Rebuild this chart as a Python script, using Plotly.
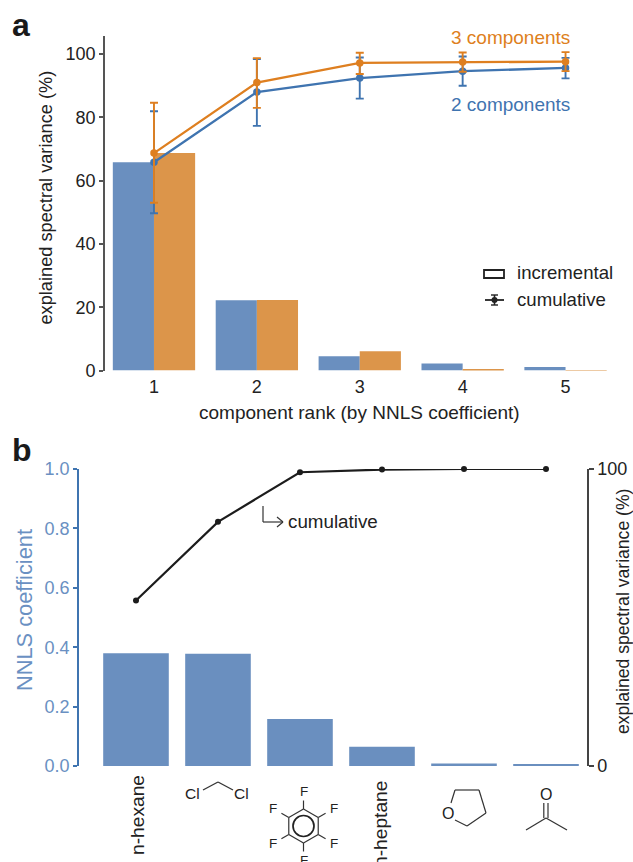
import math
import plotly.graph_objects as go

W, H = 633, 862
# ---- data ----
ranks = [1, 2, 3, 4, 5]
inc_2 = [65.8, 22.2, 4.5, 2.2, 1.1]
inc_3 = [68.7, 22.3, 6.1, 0.45, 0.12]
cum_2 = [65.8, 88.0, 92.4, 94.6, 95.6]
cum_3 = [68.7, 91.0, 97.2, 97.5, 97.6]
err_2_hi = [81.9, 98.4, 98.9, 99.2, 98.8]
err_2_lo = [49.7, 77.3, 85.9, 90.0, 92.3]
err_3_hi = [84.6, 98.7, 100.4, 100.5, 100.6]
err_3_lo = [53.0, 83.0, 93.7, 94.4, 94.6]
solvents = ["n-hexane", "dichloromethane", "hexafluorobenzene", "n-heptane", "tetrahydrofuran", "acetone"]
positions = [0, 1, 2, 3, 4, 5]
nnls = [0.38, 0.378, 0.158, 0.065, 0.008, 0.004]
cum_b = [55.7, 82.2, 98.9, 99.8, 100, 100]

BLUE_BAR, ORG_BAR = "#6A8FBF", "#DC954A"
BLUE, ORG = "#3F74B0", "#DE7F20"
LBLUE = "#6A90C2"
TXT = "#222222"
FONT = "Liberation Sans"

def px(x): return x / W
def py(y): return 1 - y / H

fig = go.Figure()
off = 0.2
fig.add_bar(x=[r - off for r in ranks], y=inc_2, width=0.4, marker=dict(color=BLUE_BAR, line_width=0), xaxis="x", yaxis="y")
fig.add_bar(x=[r + off for r in ranks], y=inc_3, width=0.4, marker=dict(color=ORG_BAR, line_width=0), xaxis="x", yaxis="y")
for c, h, l, col in [(cum_2, err_2_hi, err_2_lo, BLUE), (cum_3, err_3_hi, err_3_lo, ORG)]:
    fig.add_scatter(x=ranks, y=c, mode="lines+markers", line=dict(color=col, width=2.3), marker=dict(color=col, size=7.5),
                    error_y=dict(type="data", symmetric=False, array=[a - b for a, b in zip(h, c)],
                                 arrayminus=[b - a for a, b in zip(l, c)], color=col, thickness=1.9, width=4),
                    cliponaxis=False, xaxis="x", yaxis="y")
fig.add_bar(x=positions, y=nnls, width=0.8, marker=dict(color=BLUE_BAR, line_width=0), xaxis="x2", yaxis="y2")
fig.add_scatter(x=positions, y=cum_b, mode="lines+markers", line=dict(color="#1c1c1c", width=2.2),
                marker=dict(color="#1c1c1c", size=6), cliponaxis=False, xaxis="x2", yaxis="y3")

ann = []
def text(x, y, s, size=16.5, color=TXT, angle=0, anchor="center", bold=False):
    ann.append(dict(x=px(x), y=py(y), xref="paper", yref="paper", text=f"<b>{s}</b>" if bold else s, showarrow=False,
                    textangle=angle, xanchor=anchor, yanchor="middle", font=dict(family=FONT, size=size, color=color)))

text(10, 25, "a", 32, "#1a1a1a", anchor="left", bold=True)
text(10, 450, "b", 32, "#1a1a1a", anchor="left", bold=True)
text(572, 37, "3 components", 19, ORG, anchor="right")
text(572, 104, "2 components", 19, BLUE, anchor="right")
text(515, 272, "incremental", 18.6, anchor="left")
text(515, 299, "cumulative", 18.6, anchor="left")
text(359.5, 413, "component rank (by NNLS coefficient)", 19)
text(46, 197.5, "explained spectral variance (%)", 18.2, angle=-90)
text(24, 610, "NNLS coefficient", 21.8, LBLUE, angle=-90)
text(623, 612, "explained spectral variance (%)", 17.6, angle=-90)
text(286, 521, "cumulative", 18.8, anchor="left")
text(137, 815, solvents[0], 19.2, angle=-90)
text(380, 824, solvents[3], 19.2, angle=-90)

shapes = []
def seg(x0, y0, x1, y1, w=1.2, color="#333333"):
    shapes.append(dict(type="line", xref="paper", yref="paper", x0=px(x0), y0=py(y0), x1=px(x1), y1=py(y1),
                       line=dict(color=color, width=w)))

# legend glyphs
shapes.append(dict(type="rect", xref="paper", yref="paper", x0=px(484), x1=px(504), y0=py(278), y1=py(270),
                   line=dict(color="#222222", width=1.8)))
seg(485, 300, 504, 300, 1.8, "#222222")
seg(494.5, 295, 494.5, 305, 1.6, "#222222")
seg(491, 295, 498, 295, 1.4, "#222222")
seg(491, 305, 498, 305, 1.4, "#222222")
shapes.append(dict(type="circle", xref="paper", yref="paper", x0=px(491.5), x1=px(497.5), y0=py(303), y1=py(297),
                   fillcolor="#222222", line_width=0))
# elbow arrow
seg(263, 506, 263, 522)
seg(263, 522, 283, 522)
seg(277, 517, 283, 522)
seg(277, 527, 283, 522)
# dichloromethane
text(192.7, 793, "Cl", 15.5)
text(241, 793, "Cl", 15.5)
seg(203, 790, 218, 782)
seg(218, 782, 233, 790)
# C6F6
cx, cy, r = 303.5, 826, 17
pts = [(cx + r * math.cos(math.radians(a)), cy + r * math.sin(math.radians(a))) for a in range(30, 390, 60)]
for i in range(6):
    seg(*pts[i], *pts[(i + 1) % 6])
    ox, oy = pts[i]
    dx, dy = ox - cx, oy - cy
    seg(ox, oy, ox + dx * 0.5, oy + dy * 0.5)
    text(cx + dx * 2.05, cy + dy * 2.05, "F", 13.5)
shapes.append(dict(type="circle", xref="paper", yref="paper", x0=px(cx - 10.5), x1=px(cx + 10.5),
                   y0=py(cy + 10.5), y1=py(cy - 10.5), line=dict(color="#222222", width=1.7)))
# THF
thf = [(455, 790), (479, 790), (486, 813), (467, 826), (455, 820)]
seg(*thf[0], *thf[1]); seg(*thf[1], *thf[2]); seg(*thf[2], *thf[3]); seg(*thf[3], *thf[4])
seg(*thf[0], 451, 803)
text(448, 813, "O", 16)
# acetone
seg(526, 830, 546, 818); seg(546, 818, 567, 830)
seg(543.8, 818, 543.8, 803); seg(548, 818, 548, 803)
text(546, 794, "O", 16)

AX = "#555555"
tickfont = dict(family=FONT, size=18, color=TXT)
fig.update_layout(
    width=W, height=H, autosize=False, margin=dict(l=0, r=0, t=0, b=0, autoexpand=False), showlegend=False,
    paper_bgcolor="white", plot_bgcolor="white", barmode="overlay", annotations=ann, shapes=shapes,
    xaxis=dict(domain=[px(105), px(607)], range=[0.524, 5.403], tickvals=ranks, showgrid=False, zeroline=False,
               showline=False, ticks="", tickfont=tickfont, anchor="y", ticklabelstandoff=3),
    yaxis=dict(domain=[py(370.5), py(36)], range=[0, 105.7], tickvals=[0, 20, 40, 60, 80, 100], showgrid=False,
               zeroline=False, showline=True, linecolor=AX, linewidth=1.8, ticks="outside", ticklen=4, tickwidth=1.5,
               tickcolor=AX, tickfont=tickfont, anchor="x"),
    xaxis2=dict(domain=[px(79), px(587)], range=[-0.695, 5.5], showgrid=False, zeroline=False, showticklabels=False,
                showline=False, ticks="", anchor="y2"),
    yaxis2=dict(domain=[py(766), py(469)], range=[0, 1], tickvals=[0, 0.2, 0.4, 0.6, 0.8, 1.0], tickformat=".1f",
                showgrid=False, zeroline=False, showline=True, linecolor=BLUE, linewidth=1.8, ticks="outside",
                ticklen=4, tickwidth=1.5, tickcolor=BLUE, tickfont=dict(family=FONT, size=18, color=LBLUE), anchor="x2"),
    yaxis3=dict(domain=[py(766), py(469)], range=[0, 100], overlaying="y2", side="right", tickvals=[0, 100],
                showgrid=False, zeroline=False, showline=True, linecolor="#444444", linewidth=1.5, ticks="outside",
                ticklen=5, tickwidth=1.5, tickcolor="#444444", tickfont=tickfont, anchor="x2"),
)
fig.write_html("out.html", config=dict(displayModeBar=False),
               post_script="document.body.style.margin='0';document.body.style.overflow='hidden';")
